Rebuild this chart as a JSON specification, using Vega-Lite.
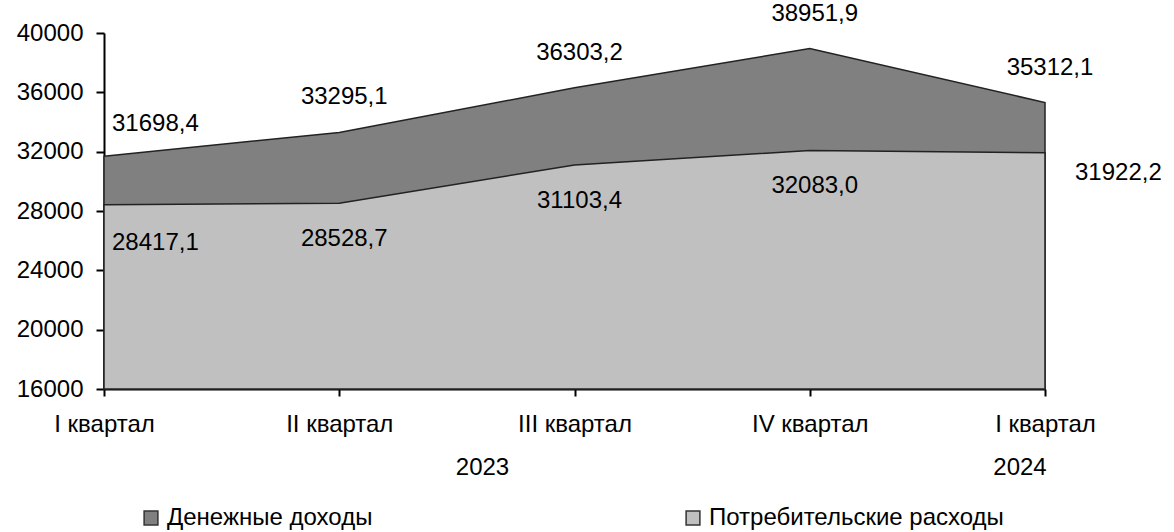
{
  "$schema": "https://vega.github.io/schema/vega-lite/v6.json",
  "width": 941,
  "height": 356,
  "autosize": "none",
  "padding": {"left": 104, "top": 33, "right": 129, "bottom": 143},
  "background": "white",
  "config": {
    "view": {"stroke": null},
    "font": "Liberation Sans",
    "locale": {"number": {"decimal": ",", "thousands": "", "grouping": [3], "currency": ["", ""]}},
    "axis": {"domainColor": "#000", "domainWidth": 2, "tickColor": "#000", "tickWidth": 2, "labelColor": "#000", "labelFontSize": 24, "labelFont": "Liberation Sans", "grid": false, "title": null}
  },
  "data": {
    "values": [
      {"q": 1, "series": "Денежные доходы", "value": 31698.4},
      {"q": 2, "series": "Денежные доходы", "value": 33295.1},
      {"q": 3, "series": "Денежные доходы", "value": 36303.2},
      {"q": 4, "series": "Денежные доходы", "value": 38951.9},
      {"q": 5, "series": "Денежные доходы", "value": 35312.1},
      {"q": 1, "series": "Потребительские расходы", "value": 28417.1},
      {"q": 2, "series": "Потребительские расходы", "value": 28528.7},
      {"q": 3, "series": "Потребительские расходы", "value": 31103.4},
      {"q": 4, "series": "Потребительские расходы", "value": 32083.0},
      {"q": 5, "series": "Потребительские расходы", "value": 31922.2}
    ]
  },
  "encoding": {
    "x": {
      "field": "q", "type": "ordinal",
      "scale": {"type": "point", "padding": 0},
      "axis": {
        "labelAngle": 0, "tickSize": 7, "labelPadding": 16, "labelOverlap": false, "labelBound": false,
        "labelBaseline": "top",
        "labelExpr": "datum.value == 1 ? 'I квартал' : datum.value == 2 ? 'II квартал' : datum.value == 3 ? 'III квартал' : datum.value == 4 ? 'IV квартал' : 'I квартал'"
      }
    },
    "y": {
      "field": "value", "type": "quantitative",
      "scale": {"domain": [16000, 40000], "nice": false, "zero": false},
      "axis": {"values": [16000, 20000, 24000, 28000, 32000, 36000, 40000], "format": "d", "tickSize": 8, "labelPadding": 13}
    }
  },
  "layer": [
    {
      "mark": {"type": "area", "stroke": "#222", "strokeWidth": 1.5, "opacity": 1},
      "encoding": {
        "y2": {"datum": 16000},
        "color": {
          "field": "series", "type": "nominal",
          "scale": {"domain": ["Денежные доходы", "Потребительские расходы"], "range": ["#808080", "#c0c0c0"]},
          "legend": {
            "title": null, "orient": "none", "direction": "horizontal", "legendX": 35, "legendY": 473,
            "symbolType": "square", "symbolSize": 190, "symbolStrokeColor": "#333", "symbolStrokeWidth": 1.5, "symbolOpacity": 1,
            "labelFontSize": 24, "labelFont": "Liberation Sans", "labelColor": "#000", "labelOffset": 4, "columnPadding": 308, "padding": 0, "labelLimit": 400
          }
        }
      }
    },
    {
      "transform": [{"filter": "datum.series == 'Денежные доходы' && datum.q > 1"}],
      "mark": {"type": "text", "fontSize": 24, "dx": 5, "dy": -35, "color": "#000"},
      "encoding": {"text": {"field": "value", "type": "quantitative", "format": ".1f"}}
    },
    {
      "transform": [{"filter": "datum.series == 'Денежные доходы' && datum.q == 1"}],
      "mark": {"type": "text", "fontSize": 24, "align": "left", "dx": 8, "dy": -32, "color": "#000"},
      "encoding": {"text": {"field": "value", "type": "quantitative", "format": ".1f"}}
    },
    {
      "transform": [{"filter": "datum.series == 'Потребительские расходы' && datum.q > 1 && datum.q < 5"}],
      "mark": {"type": "text", "fontSize": 24, "dx": 5, "dy": 36, "color": "#000"},
      "encoding": {"text": {"field": "value", "type": "quantitative", "format": ".1f"}}
    },
    {
      "transform": [{"filter": "datum.series == 'Потребительские расходы' && datum.q == 1"}],
      "mark": {"type": "text", "fontSize": 24, "align": "left", "dx": 8, "dy": 38, "color": "#000"},
      "encoding": {"text": {"field": "value", "type": "quantitative", "format": ".1f"}}
    },
    {
      "transform": [{"filter": "datum.series == 'Потребительские расходы' && datum.q == 5"}],
      "mark": {"type": "text", "fontSize": 24, "align": "left", "dx": 30, "dy": 20, "color": "#000"},
      "encoding": {"text": {"field": "value", "type": "quantitative", "format": ".1f"}}
    },
    {
      "transform": [{"filter": "datum.series == 'Денежные доходы' && datum.q == 3"}],
      "mark": {"type": "text", "fontSize": 24, "baseline": "top", "dx": -92, "dy": 67, "color": "#000"},
      "encoding": {"y": {"datum": 16000}, "text": {"value": "2023"}}
    },
    {
      "transform": [{"filter": "datum.series == 'Денежные доходы' && datum.q == 5"}],
      "mark": {"type": "text", "fontSize": 24, "baseline": "top", "dx": -25, "dy": 67, "color": "#000"},
      "encoding": {"y": {"datum": 16000}, "text": {"value": "2024"}}
    }
  ]
}
